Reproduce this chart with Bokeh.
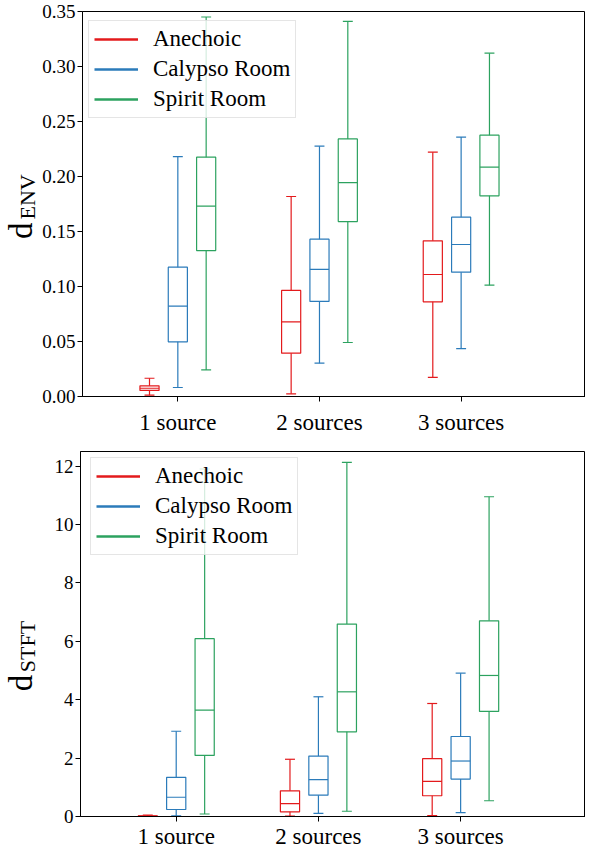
import numpy as np
from bokeh.plotting import figure
from bokeh.models import (Range1d, FixedTicker, Legend, LegendItem,
                          ColumnDataSource, NumeralTickFormatter)
from bokeh.core.properties import value
from bokeh.layouts import column, row
from bokeh.embed import file_html
from bokeh.resources import INLINE

categories = ["1 source", "2 sources", "3 sources"]
cat_pos = [1, 2, 3]
rooms = ["Anechoic", "Calypso Room", "Spirit Room"]
room_colors = ["#e31a1c", "#2b7bba", "#2ca25f"]
room_offsets = [-0.2, 0.0, 0.2]

# each entry: [whisker low, Q1, median, Q3, whisker high] for 1, 2, 3 sources
env_anechoic = [[0.0012, 0.0055, 0.0075, 0.0097, 0.0166],
                [0.0024, 0.0394, 0.0679, 0.0964, 0.1818],
                [0.0173, 0.0861, 0.1109, 0.1415, 0.2221]]
env_calypso = [[0.0082, 0.0497, 0.0821, 0.1176, 0.2180],
               [0.0303, 0.0864, 0.1155, 0.1430, 0.2276],
               [0.0436, 0.1130, 0.1382, 0.1630, 0.2358]]
env_spirit = [[0.0242, 0.1327, 0.1730, 0.2176, 0.3450],
              [0.0491, 0.1590, 0.1945, 0.2342, 0.3410],
              [0.1012, 0.1824, 0.2085, 0.2376, 0.3121]]

stft_anechoic = [[0.00, 0.005, 0.01, 0.02, 0.05],
                 [0.01, 0.16, 0.44, 0.88, 1.96],
                 [0.03, 0.71, 1.20, 1.98, 3.87]]
stft_calypso = [[0.02, 0.24, 0.66, 1.34, 2.92],
                [0.11, 0.73, 1.26, 2.07, 4.10],
                [0.13, 1.28, 1.90, 2.74, 4.91]]
stft_spirit = [[0.085, 2.09, 3.64, 6.09, 11.9],
               [0.18, 2.90, 4.27, 6.59, 12.13],
               [0.54, 3.60, 4.83, 6.70, 10.95]]

env_yticks = [0.0, 0.05, 0.10, 0.15, 0.20, 0.25, 0.30, 0.35]
stft_yticks = [0, 2, 4, 6, 8, 10, 12]

FONT = "Liberation Serif"
BW = 0.135
CW = 0.07
LW = 1.2
LAB_W = 39
MAIN_W = 585 - LAB_W


def make_label_fig(y_range, height, btop, bbot, sub, d_y, sub_y):
    # narrow side panel holding the y-axis title "d" + subscript (same vertical scale)
    lab = figure(width=LAB_W, height=height, x_range=Range1d(0, LAB_W),
                 y_range=y_range, output_backend="svg", toolbar_location=None,
                 x_axis_location=None, y_axis_location=None,
                 min_border_left=0, min_border_right=0,
                 min_border_top=btop, min_border_bottom=bbot)
    lab.grid.visible = False
    lab.outline_line_color = None
    lab.text(x=[20.6], y=[d_y], text=["d"], angle=np.pi / 2,
             text_font=value(FONT), text_font_size="33px",
             text_baseline="middle", text_align="left", text_color="black")
    lab.text(x=[27.0], y=[sub_y], text=[sub], angle=np.pi / 2,
             text_font=value(FONT), text_font_size="22px",
             text_baseline="middle", text_align="left", text_color="black")
    return lab


def make_fig(data, ymax, yticks, fmt, height, btop, bbot, legend_loc, xstandoff):
    p = figure(width=MAIN_W, height=height, x_range=Range1d(0.327, 3.878),
               y_range=Range1d(0, ymax), output_backend="svg",
               toolbar_location=None, min_border_left=80 - LAB_W, min_border_right=0,
               min_border_top=btop, min_border_bottom=bbot)
    items = []
    for stats_list, room, color, off in zip(data, rooms, room_colors, room_offsets):
        s = np.array(stats_list, dtype=float)
        x = np.array(cat_pos, dtype=float) + off
        src = ColumnDataSource(dict(x=x, x0=x - BW / 2, x1=x + BW / 2,
                                    c0=x - CW / 2, c1=x + CW / 2,
                                    low=s[:, 0], q1=s[:, 1], med=s[:, 2],
                                    q3=s[:, 3], high=s[:, 4]))
        p.segment('x', 'low', 'x', 'q1', source=src, line_color=color, line_width=LW)
        p.segment('x', 'q3', 'x', 'high', source=src, line_color=color, line_width=LW)
        p.segment('c0', 'low', 'c1', 'low', source=src, line_color=color, line_width=LW)
        p.segment('c0', 'high', 'c1', 'high', source=src, line_color=color, line_width=LW)
        p.vbar(x='x', width=BW, bottom='q1', top='q3', source=src,
               fill_color=None, line_color=color, line_width=LW)
        p.segment('x0', 'med', 'x1', 'med', source=src, line_color=color, line_width=LW)
        # legend-only line (no visible data)
        r = p.line(x=[np.nan, np.nan], y=[np.nan, np.nan], line_color=color, line_width=2.5)
        items.append(LegendItem(label=room, renderers=[r]))

    legend = Legend(items=items, location=legend_loc, margin=0,
                    label_text_font=FONT, label_text_font_size="23px",
                    label_text_color="black",
                    glyph_width=44, glyph_height=26, label_height=26,
                    label_standoff=15, spacing=4, padding=5,
                    border_line_color="#cccccc", border_line_width=1,
                    background_fill_color="white", background_fill_alpha=0.8)
    p.add_layout(legend)

    p.xgrid.visible = False
    p.ygrid.visible = False
    p.outline_line_color = "black"
    p.outline_line_alpha = 1.0
    p.outline_line_width = 1

    p.xaxis.ticker = FixedTicker(ticks=cat_pos)
    p.xaxis.major_label_overrides = {pos: cat for pos, cat in zip(cat_pos, categories)}
    p.xaxis.major_label_standoff = xstandoff
    p.xaxis.major_label_text_font_size = "23px"
    p.yaxis.ticker = FixedTicker(ticks=yticks)
    if fmt:
        p.yaxis.formatter = NumeralTickFormatter(format=fmt)
    p.yaxis.major_label_standoff = 2
    p.yaxis.major_label_text_font_size = "19px"
    for ax in (p.xaxis, p.yaxis):
        ax.minor_tick_line_color = None
        ax.major_tick_in = 0
        ax.major_tick_out = 5
        ax.major_tick_line_color = "black"
        ax.axis_line_color = "black"
        ax.major_label_text_font = FONT
        ax.major_label_text_color = "black"
    return p


p1 = make_fig([env_anechoic, env_calypso, env_spirit], 0.35, env_yticks, "0.00",
              440, 11, 44, (6, 278), 8)
lab1 = make_label_fig(p1.y_range, 440, 11, 44, "ENV", 0.1432, 0.1609)
p2 = make_fig([stft_anechoic, stft_calypso, stft_spirit], 12.5, stft_yticks, None,
              411, 11, 33, (10, 261), 2)
lab2 = make_label_fig(p2.y_range, 411, 11, 33, "STFT", 4.29, 4.94)

layout = column(row(lab1, p1, spacing=0), row(lab2, p2, spacing=0), spacing=0)
open("out.html", "w").write(file_html(layout, INLINE))
